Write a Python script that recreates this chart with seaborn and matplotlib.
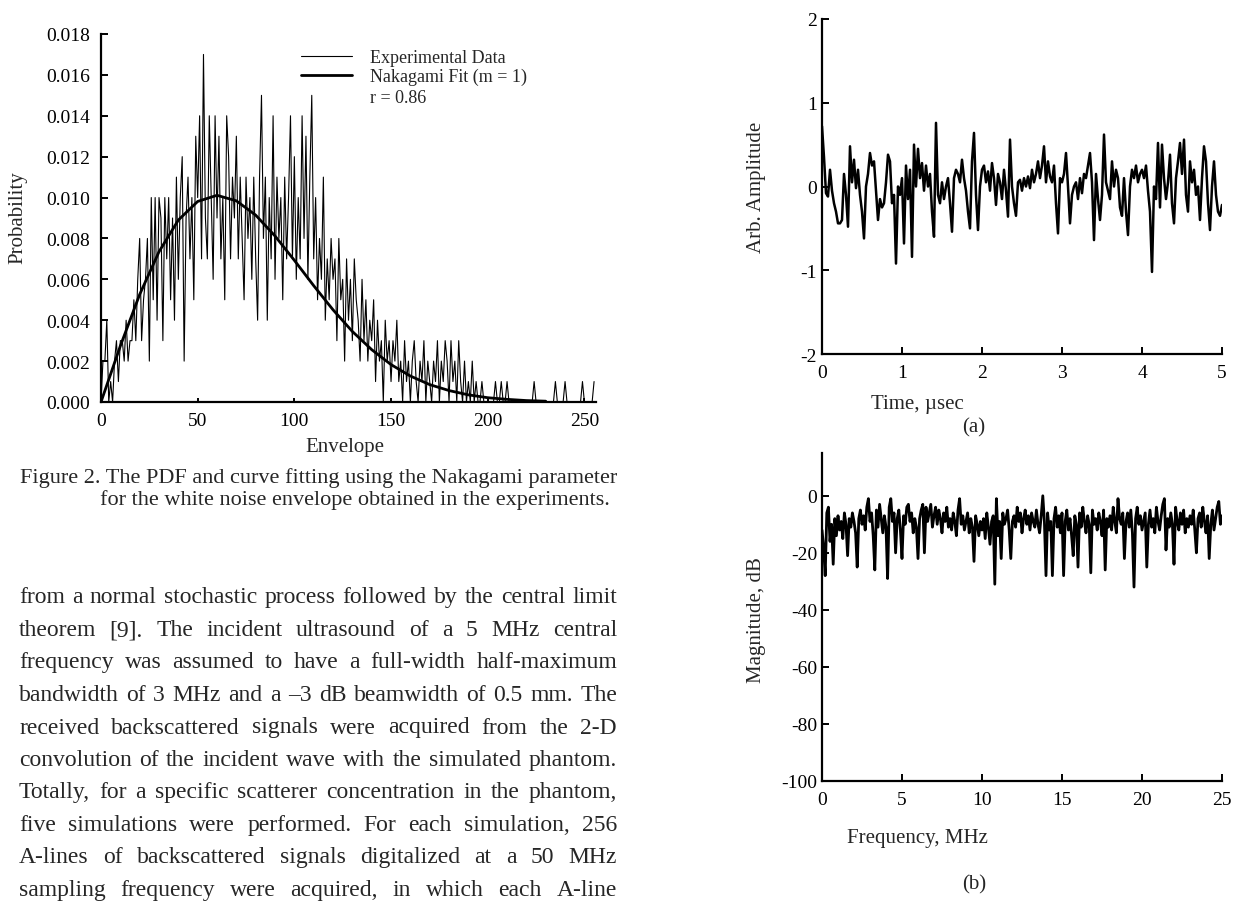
import numpy as np
import seaborn as sns
import matplotlib.pyplot as plt

# Figure 2: envelope PDF (units of 0.001), envelope = 0..255
envelope = np.arange(256)
pdf_counts = [
    0, 2, 2, 4, 0, 1, 0, 2, 3, 1,
    3, 3, 2, 4, 2, 3, 3, 5, 3, 6,
    8, 3, 5, 6, 8, 2, 10, 5, 10, 4,
    10, 9, 3, 10, 7, 10, 5, 9, 4, 11,
    6, 10, 12, 2, 9, 11, 7, 10, 5, 13,
    10, 14, 7, 17, 9, 7, 14, 10, 6, 14,
    9, 13, 7, 10, 5, 14, 12, 7, 11, 9,
    13, 7, 11, 8, 5, 11, 8, 10, 6, 11,
    7, 4, 11, 15, 8, 11, 4, 10, 7, 14,
    6, 11, 8, 10, 5, 11, 7, 10, 14, 7,
    12, 6, 10, 7, 14, 8, 13, 6, 11, 15,
    7, 10, 5, 8, 6, 11, 4, 7, 5, 8,
    6, 7, 3, 8, 5, 6, 2, 7, 4, 6,
    3, 7, 5, 4, 2, 6, 3, 5, 2, 4,
    3, 5, 1, 4, 2, 3, 0, 4, 2, 3,
    1, 3, 2, 4, 1, 2, 0, 3, 1, 2,
    0, 2, 3, 1, 0, 2, 1, 3, 0, 2,
    1, 0, 2, 1, 3, 0, 2, 1, 3, 2,
    0, 3, 1, 2, 0, 3, 1, 0, 2, 0,
    1, 0, 2, 0, 1, 0, 0, 1, 0, 0,
    0, 0, 0, 0, 1, 0, 0, 1, 0, 0,
    1, 0, 0, 0, 0, 0, 0, 0, 0, 0,
    0, 0, 0, 0, 1, 0, 0, 0, 0, 0,
    0, 0, 0, 0, 0, 1, 0, 0, 0, 0,
    1, 0, 0, 0, 0, 0, 0, 0, 0, 1,
    0, 0, 0, 0, 0, 1,
]
fit_envelope = [0, 10, 20, 30, 40, 50, 60, 70, 80, 90, 100, 110, 120,
                130, 140, 150, 160, 170, 180, 190, 200, 210, 220, 230]
fit_prob = [0.0, 0.00274, 0.00526, 0.00735, 0.00890, 0.00981, 0.01011,
            0.00984, 0.00914, 0.00812, 0.00693, 0.00569, 0.00451, 0.00345,
            0.00256, 0.00183, 0.00127, 0.00085, 0.00056, 0.00035, 0.00021,
            0.00013, 0.00007, 0.00004]

# (a) time signal, sampled every 0.025 usec
time_us = np.arange(201) * 0.025
amplitude = [
    0.72, 0.35, -0.08, -0.12, 0.20, -0.05, -0.20, -0.30, -0.44, -0.44,
    -0.40, 0.15, -0.10, -0.48, 0.48, 0.05, 0.32, -0.02, 0.20, -0.10,
    -0.30, -0.62, 0.00, 0.15, 0.40, 0.25, 0.30, -0.05, -0.40, -0.15,
    -0.25, -0.20, 0.05, 0.38, 0.30, -0.20, -0.10, -0.92, 0.00, -0.10,
    0.10, -0.68, 0.25, -0.15, 0.20, -0.84, 0.50, 0.00, 0.45, 0.10,
    0.28, -0.05, 0.25, 0.00, 0.15, -0.30, -0.60, 0.76, -0.10, -0.20,
    0.05, -0.15, 0.00, 0.10, -0.20, -0.54, 0.10, 0.20, 0.15, 0.05,
    0.32, 0.10, -0.05, -0.30, -0.50, 0.30, 0.64, -0.10, -0.52, 0.00,
    0.20, 0.25, 0.05, 0.18, -0.05, 0.28, 0.10, -0.22, 0.15, 0.05,
    -0.15, 0.20, -0.05, -0.36, 0.56, 0.00, -0.20, -0.35, 0.05, 0.08,
    -0.05, 0.10, 0.00, 0.12, -0.02, 0.20, 0.05, 0.15, 0.30, 0.10,
    0.25, 0.48, 0.05, 0.30, 0.12, 0.05, 0.25, -0.20, -0.56, 0.10,
    0.05, 0.15, 0.40, 0.00, -0.44, -0.10, 0.00, 0.05, -0.15, 0.10,
    -0.08, 0.15, 0.10, 0.25, 0.40, 0.05, -0.64, 0.15, -0.15, -0.40,
    -0.10, 0.62, 0.05, -0.05, -0.15, 0.30, 0.00, 0.20, 0.10, -0.25,
    -0.35, 0.10, -0.30, -0.58, 0.00, 0.20, 0.10, 0.25, 0.05, 0.15,
    0.20, 0.10, 0.25, -0.05, -0.30, -1.02, 0.00, -0.15, 0.52, -0.25,
    0.50, 0.10, -0.15, 0.05, 0.38, -0.20, -0.44, 0.10, 0.30, 0.52,
    0.15, 0.56, -0.10, -0.30, 0.30, 0.05, 0.20, -0.10, 0.00, -0.40,
    0.10, 0.48, 0.30, -0.20, -0.52, 0.00, 0.30, -0.10, -0.30, -0.35,
    -0.22,
]

# (b) spectrum, every 0.1 MHz
freq_mhz = np.arange(251) * 0.1
magnitude_db = [
    -12, -18, -28, -6, -4, -16, -10, -24, -8, -14,
    -7, -12, -9, -15, -6, -10, -21, -8, -11, -6,
    -9, -13, -25, -8, -5, -10, -7, -12, -4, -1,
    -9, -6, -14, -26, -5, -11, -3, -8, -13, -7,
    -11, -29, -4, -1, -9, -6, -20, -8, -5, -12,
    -22, -7, -10, -4, -3, -9, -6, -13, -8, -11,
    -22, -8, -5, -3, -20, -4, -9, -6, -3, -11,
    -7, -4, -10, -5, -8, -13, -6, -9, -4, -11,
    -8, -12, -6, -9, -14, -5, -1, -10, -7, -12,
    -9, -6, -13, -8, -11, -23, -7, -10, -14, -9,
    -12, -8, -15, -6, -11, -17, -9, -7, -31, -1,
    -14, -9, -22, -6, -10, -8, -5, -12, -22, -9,
    -7, -11, -4, -9, -6, -13, -8, -5, -10, -7,
    -12, -6, -9, -11, -5, -10, -13, -7, 0, -9,
    -28, -6, -12, -9, -28, -8, -4, -11, -7, -13,
    -6, -28, -9, -5, -12, -8, -14, -21, -7, -10,
    -25, -6, -11, -4, -9, -13, -7, -10, -27, -5,
    -10, -8, -12, -6, -9, -14, -5, -26, -8, -11,
    -7, -12, -4, -9, -13, -1, -8, -10, -6, -22,
    -9, -6, -11, -5, -13, -32, -8, -4, -10, -7,
    -12, -9, -6, -25, -10, -5, -11, -8, -13, -4,
    -9, -12, -7, -3, -1, -19, -8, -11, -6, -10,
    -24, -4, -9, -12, -6, -10, -5, -13, -8, -11,
    -7, -10, -5, -12, -20, -8, -6, -11, -4, -9,
    -13, -7, -22, -10, -5, -12, -8, -4, -2, -10,
    -7,
]

caption = ["Figure 2. The PDF and curve fitting using the Nakagami parameter",
           "for the white noise envelope obtained in the experiments."]
body_lines = [
    "from a normal stochastic process followed by the central limit",
    "theorem [9]. The incident ultrasound of a 5 MHz central",
    "frequency was assumed to have a full-width half-maximum",
    "bandwidth of 3 MHz and a \u20133 dB beamwidth of 0.5 mm. The",
    "received backscattered signals were acquired from the 2-D",
    "convolution of the incident wave with the simulated phantom.",
    "Totally, for a specific scatterer concentration in the phantom,",
    "five simulations were performed. For each simulation, 256",
    "A-lines of backscattered signals digitalized at a 50 MHz",
    "sampling frequency were acquired, in which each A-line",
]

sns.set_style("ticks")
plt.rcParams['font.family'] = ['Liberation Serif', 'DejaVu Serif']
plt.rcParams['axes.unicode_minus'] = False

W, H = 1237, 904
fig = plt.figure(figsize=(W / 100, H / 100), dpi=100)


def px_axes(x0, y_top, x1, y_bot):
    return fig.add_axes([x0 / W, 1 - y_bot / H, (x1 - x0) / W, (y_bot - y_top) / H])


def style_axes(ax, fs=14):
    sns.despine(ax=ax)
    for s in ['left', 'bottom']:
        ax.spines[s].set_linewidth(1.6)
        ax.spines[s].set_color('black')
    ax.tick_params(direction='in', length=5, width=1.4, labelsize=fs, colors='black')
    ax.set_facecolor('white')


# left: PDF
ax1 = px_axes(101, 35, 596, 403)
sns.lineplot(x=envelope, y=np.array(pdf_counts) / 1000.0, ax=ax1, color='black',
             lw=0.8, label='Experimental Data')
sns.lineplot(x=fit_envelope, y=fit_prob, ax=ax1, color='black', lw=2.0,
             label='Nakagami Fit (m = 1)')
ax1.set_xlim(0, 256)
ax1.set_ylim(0, 0.018)
ax1.set_xticks([0, 50, 100, 150, 200, 250])
ax1.set_yticks(np.arange(0, 0.0181, 0.002))
ax1.set_yticklabels([f"{v:.3f}" for v in np.arange(0, 0.0181, 0.002)])
ax1.set_xlabel('')
ax1.set_ylabel('')
style_axes(ax1, 14)
ax1.tick_params(axis='x', length=3, pad=7)
ax1.tick_params(axis='y', pad=8)
ax1.legend(loc='upper left', bbox_to_anchor=(0.39, 0.978), frameon=False,
           fontsize=13, handlelength=2.8, handletextpad=1.0, labelspacing=0.1,
           borderaxespad=0)
ax1.text((370 - 101) / 495, (403 - 99) / 368, 'r = 0.86', transform=ax1.transAxes,
         fontsize=13, va='center')
fig.text(18 / W, 1 - 218 / H, 'Probability', rotation=90, fontsize=15, ha='center', va='center')
fig.text(345 / W, 1 - 448 / H, 'Envelope', fontsize=15, ha='center', va='center')

# right top: time signal
ax2 = px_axes(822, 20, 1222, 355)
sns.lineplot(x=time_us, y=amplitude, ax=ax2, color='black', lw=1.8)
ax2.set_xlim(0, 5)
ax2.set_ylim(-2, 2)
ax2.set_xticks(range(6))
ax2.set_yticks([-2, -1, 0, 1, 2])
ax2.set_xlabel('')
ax2.set_ylabel('')
style_axes(ax2, 14)
ax2.tick_params(axis='x', pad=7)
fig.text(757 / W, 1 - 187 / H, 'Arb. Amplitude', rotation=90, fontsize=15, ha='center', va='center')
fig.text(917 / W, 1 - 405 / H, 'Time, \u00b5sec', fontsize=15, ha='center', va='center')
fig.text(974 / W, 1 - 428 / H, '(a)', fontsize=15, ha='center', va='center')

# right bottom: spectrum
ax3 = px_axes(822, 454, 1222, 782)
sns.lineplot(x=freq_mhz, y=magnitude_db, ax=ax3, color='black', lw=2.0)
ax3.set_xlim(0, 25)
ax3.set_ylim(-100, 15)
ax3.set_xticks([0, 5, 10, 15, 20, 25])
ax3.set_yticks([-100, -80, -60, -40, -20, 0])
ax3.set_xlabel('')
ax3.set_ylabel('')
style_axes(ax3, 14)
ax3.tick_params(axis='x', pad=7)
fig.text(757 / W, 1 - 620 / H, 'Magnitude, dB', rotation=90, fontsize=15, ha='center', va='center')
fig.text(917 / W, 1 - 838 / H, 'Frequency, MHz', fontsize=15, ha='center', va='center')
fig.text(974 / W, 1 - 885 / H, '(b)', fontsize=15, ha='center', va='center')

# caption and body text
fig.text(20 / W, 1 - 478 / H, caption[0], fontsize=16, va='center', ha='left')
fig.text(610 / W, 1 - 500 / H, caption[1], fontsize=16, va='center', ha='right')

renderer = fig.canvas.get_renderer()


def justified(line, x0, x1, y, fs):
    words = line.split(' ')
    texts = [fig.text(0, 1 - y / H, w, fontsize=fs, va='center', ha='left') for w in words]
    widths = [t.get_window_extent(renderer).width for t in texts]
    gap = (x1 - x0 - sum(widths)) / max(len(words) - 1, 1)
    x = x0
    for t, wd in zip(texts, widths):
        t.set_x(x / W)
        x += wd + gap


body_y = [598, 631, 663, 696, 728, 761, 793, 826, 858, 891]
for line, y in zip(body_lines, body_y):
    justified(line, 19, 617, y, 17)

fig.savefig('out.png', dpi=100, facecolor='white')
